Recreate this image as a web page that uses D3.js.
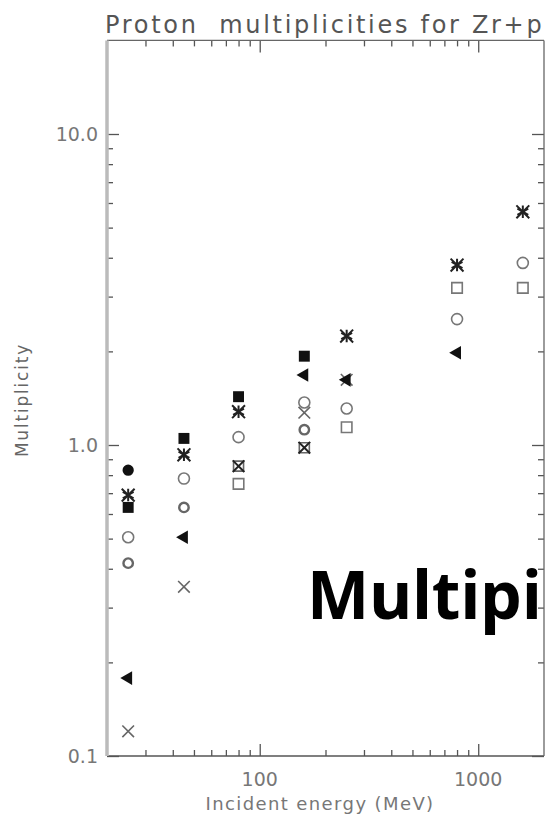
<!DOCTYPE html>
<html>
<head>
<meta charset="utf-8">
<script src="https://cdn.jsdelivr.net/npm/d3@7"></script>
<style>
  body { margin: 0; background: #fff; }
  svg { display: block; }
</style>
</head>
<body>
<div id="chart"></div>
<script>
// incident energies (MeV)
const energies = [25, 45, 80, 160, 250, 800, 1600];

// multiplicity per marker type, one value per energy (null = no point)
const filledSquare   = [0.63, 1.05, 1.43, 1.93, null, null, null];
const asterisk       = [0.69, 0.93, 1.28, null, 2.24, 3.79, 5.62];
const filledCircle   = [0.83, null, null, null, null, null, null];
const openCircle     = [0.505, 0.78, 1.06, 1.37, 1.31, 2.54, 3.85];
const smallCircle    = [0.417, 0.63, null, 1.12, null, null, null];
const filledTriangle = [0.178, 0.505, null, 1.68, 1.62, 1.98, null];
const crossMark      = [0.12, 0.35, null, 1.27, 1.62, null, null];
const openSquare     = [null, null, 0.75, null, 1.14, 3.2, 3.2];
const boxCross       = [null, null, 0.855, 0.98, null, null, null];

// axis ticks
const xMajor = [100, 1000];
const xMinor = [30, 40, 50, 60, 70, 80, 90, 200, 300, 400, 500, 600, 700, 800, 900];
const yMajor = [0.1, 1, 10];
const yMinor = [0.2, 0.3, 0.4, 0.5, 0.6, 0.7, 0.8, 0.9, 2, 3, 4, 5, 6, 7, 8, 9];

const width = 545, height = 822;
const plotLeft = 107, plotRight = 544, plotBottom = 756;
const plotTop = plotBottom - 311 * Math.log10(200);

const svg = d3.select("#chart").append("svg")
  .attr("width", width)
  .attr("height", height);

const x = d3.scaleLog().domain([20, 2000]).range([plotLeft, plotRight]);
const y = d3.scaleLog().domain([0.1, 20]).range([plotBottom, plotTop]);

const font = "'DejaVu Sans', 'Liberation Sans', sans-serif";
const grey = "#777";

// title
svg.append("text")
  .attr("x", 105).attr("y", 33)
  .attr("font-family", font).attr("font-size", 24)
  .attr("letter-spacing", 2.7)
  .attr("fill", "#555")
  .attr("xml:space", "preserve")
  .text("Proton  multiplicities for Zr+p");

// tick marks, all pointing inward
function ticks(axis, vals, size) {
  svg.append("g")
    .attr("transform", axis.t)
    .call(axis.gen(axis.scale).tickValues(vals).tickSize(-size).tickFormat(""))
    .call(g => g.select(".domain").remove())
    .call(g => g.selectAll("line").attr("stroke", "#555").attr("stroke-width", 1.3));
}
const axes = [
  { gen: d3.axisBottom, scale: x, t: `translate(0,${plotBottom})` },
  { gen: d3.axisTop, scale: x, t: `translate(0,${plotTop})` },
  { gen: d3.axisLeft, scale: y, t: `translate(${plotLeft},0)` },
  { gen: d3.axisRight, scale: y, t: `translate(${plotRight},0)` }
];
axes.forEach((a, i) => {
  const major = i < 2 ? xMajor : yMajor;
  const minor = i < 2 ? xMinor : yMinor;
  ticks(a, major, 12);
  ticks(a, minor, 6);
});

// frame
svg.append("line").attr("x1", plotLeft).attr("x2", plotRight).attr("y1", plotBottom).attr("y2", plotBottom)
  .attr("stroke", "#555").attr("stroke-width", 1.5);
svg.append("line").attr("x1", plotLeft).attr("x2", plotRight).attr("y1", plotTop).attr("y2", plotTop)
  .attr("stroke", "#666").attr("stroke-width", 1.3);
svg.append("line").attr("x1", plotRight).attr("x2", plotRight).attr("y1", plotTop).attr("y2", plotBottom)
  .attr("stroke", "#666").attr("stroke-width", 1.3);
svg.append("line").attr("x1", plotLeft).attr("x2", plotLeft).attr("y1", plotTop).attr("y2", plotBottom)
  .attr("stroke", "#bbb").attr("stroke-width", 3.5);

// tick labels
svg.append("g").selectAll("text")
  .data(xMajor).join("text")
  .attr("x", d => x(d)).attr("y", plotBottom + 30)
  .attr("text-anchor", "middle")
  .attr("font-family", font).attr("font-size", 19).attr("fill", grey)
  .text(d => d);
svg.append("g").selectAll("text")
  .data(yMajor).join("text")
  .attr("x", plotLeft - 9).attr("y", d => y(d) + 7)
  .attr("text-anchor", "end")
  .attr("font-family", font).attr("font-size", 19).attr("fill", grey)
  .text(d => d3.format(".1f")(d));

// axis titles
svg.append("text")
  .attr("x", 320).attr("y", 810)
  .attr("text-anchor", "middle")
  .attr("font-family", font).attr("font-size", 18).attr("letter-spacing", 1.4)
  .attr("fill", grey)
  .text("Incident energy (MeV)");
svg.append("text")
  .attr("transform", "translate(28,400) rotate(-90)")
  .attr("text-anchor", "middle")
  .attr("font-family", font).attr("font-size", 17).attr("letter-spacing", 1.8)
  .attr("fill", "#666")
  .text("Multiplicity");

// markers
const sym = (type, size) => d3.symbol().type(type).size(size)();
const timesType = d3.symbolTimes || d3.symbolX;
const series = [
  { data: openSquare,     path: sym(d3.symbolSquare, 110), fill: "none", stroke: "#777", sw: 1.6 },
  { data: openCircle,     path: sym(d3.symbolCircle, 95),  fill: "none", stroke: "#777", sw: 1.6 },
  { data: smallCircle,    path: sym(d3.symbolCircle, 70),  fill: "none", stroke: "#666", sw: 2.4 },
  { data: crossMark,      path: sym(timesType, 90),        fill: "none", stroke: "#666", sw: 1.6 },
  { data: filledTriangle, path: sym(d3.symbolTriangle, 80), fill: "#111", stroke: "none", sw: 0, rot: -90 },
  { data: filledSquare,   path: sym(d3.symbolSquare, 120), fill: "#111", stroke: "none", sw: 0 },
  { data: filledCircle,   path: sym(d3.symbolCircle, 100), fill: "#111", stroke: "none", sw: 0 },
  { data: boxCross,       path: sym(d3.symbolSquare, 100), fill: "none", stroke: "#666", sw: 1.6 },
  { data: boxCross,       path: sym(timesType, 90),        fill: "none", stroke: "#222", sw: 2 },
  { data: asterisk,       path: sym(d3.symbolAsterisk || d3.symbolCross, 110), fill: "none", stroke: "#222", sw: 2 },
  { data: asterisk,       path: sym(timesType, 110),       fill: "none", stroke: "#222", sw: 2 }
];

series.forEach(s => {
  const pts = energies.map((e, i) => [e, s.data[i]]).filter(p => p[1] != null);
  svg.append("g").selectAll("path")
    .data(pts).join("path")
    .attr("transform", p => `translate(${x(p[0])},${y(p[1])}) rotate(${s.rot || 0})`)
    .attr("d", s.path)
    .attr("fill", s.fill)
    .attr("stroke", s.stroke)
    .attr("stroke-width", s.sw);
});

// overlaid caption
svg.append("text")
  .attr("x", 307).attr("y", 619)
  .attr("font-family", "'Noto Sans', 'Open Sans', sans-serif")
  .attr("font-weight", "bold").attr("font-size", 66)
  .attr("fill", "#000")
  .text("Multipi");
</script>
</body>
</html>
